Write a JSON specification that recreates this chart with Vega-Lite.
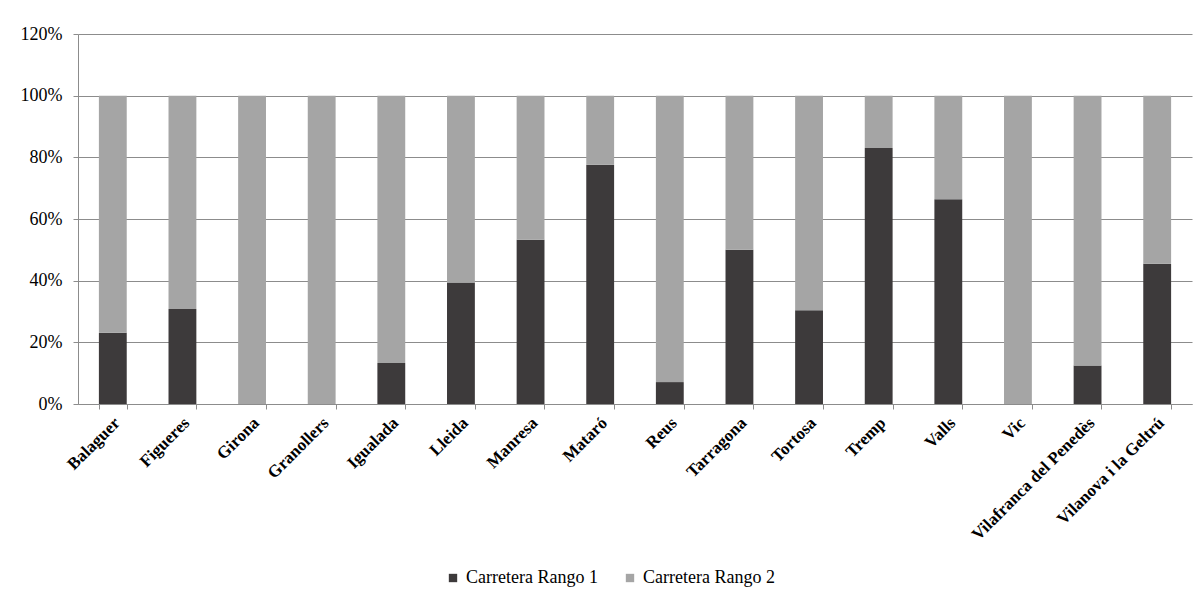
{
  "$schema": "https://vega.github.io/schema/vega-lite/v6.json",
  "width": 1114,
  "height": 370,
  "autosize": {"type": "none"},
  "padding": {"left": 78, "top": 34, "right": 9, "bottom": 194},
  "background": "white",
  "data": {
    "values": [
      {"ciudad": "Balaguer", "serie": "Carretera Rango 1", "valor": 0.231},
      {"ciudad": "Balaguer", "serie": "Carretera Rango 2", "valor": 0.769},
      {"ciudad": "Figueres", "serie": "Carretera Rango 1", "valor": 0.308},
      {"ciudad": "Figueres", "serie": "Carretera Rango 2", "valor": 0.692},
      {"ciudad": "Girona", "serie": "Carretera Rango 1", "valor": 0},
      {"ciudad": "Girona", "serie": "Carretera Rango 2", "valor": 1},
      {"ciudad": "Granollers", "serie": "Carretera Rango 1", "valor": 0},
      {"ciudad": "Granollers", "serie": "Carretera Rango 2", "valor": 1},
      {"ciudad": "Igualada", "serie": "Carretera Rango 1", "valor": 0.133},
      {"ciudad": "Igualada", "serie": "Carretera Rango 2", "valor": 0.867},
      {"ciudad": "Lleida", "serie": "Carretera Rango 1", "valor": 0.394},
      {"ciudad": "Lleida", "serie": "Carretera Rango 2", "valor": 0.606},
      {"ciudad": "Manresa", "serie": "Carretera Rango 1", "valor": 0.533},
      {"ciudad": "Manresa", "serie": "Carretera Rango 2", "valor": 0.467},
      {"ciudad": "Mataró", "serie": "Carretera Rango 1", "valor": 0.776},
      {"ciudad": "Mataró", "serie": "Carretera Rango 2", "valor": 0.224},
      {"ciudad": "Reus", "serie": "Carretera Rango 1", "valor": 0.071},
      {"ciudad": "Reus", "serie": "Carretera Rango 2", "valor": 0.929},
      {"ciudad": "Tarragona", "serie": "Carretera Rango 1", "valor": 0.5},
      {"ciudad": "Tarragona", "serie": "Carretera Rango 2", "valor": 0.5},
      {"ciudad": "Tortosa", "serie": "Carretera Rango 1", "valor": 0.304},
      {"ciudad": "Tortosa", "serie": "Carretera Rango 2", "valor": 0.696},
      {"ciudad": "Tremp", "serie": "Carretera Rango 1", "valor": 0.83},
      {"ciudad": "Tremp", "serie": "Carretera Rango 2", "valor": 0.17},
      {"ciudad": "Valls", "serie": "Carretera Rango 1", "valor": 0.664},
      {"ciudad": "Valls", "serie": "Carretera Rango 2", "valor": 0.336},
      {"ciudad": "Vic", "serie": "Carretera Rango 1", "valor": 0},
      {"ciudad": "Vic", "serie": "Carretera Rango 2", "valor": 1},
      {"ciudad": "Vilafranca del Penedès", "serie": "Carretera Rango 1", "valor": 0.125},
      {"ciudad": "Vilafranca del Penedès", "serie": "Carretera Rango 2", "valor": 0.875},
      {"ciudad": "Vilanova i la Geltrú", "serie": "Carretera Rango 1", "valor": 0.455},
      {"ciudad": "Vilanova i la Geltrú", "serie": "Carretera Rango 2", "valor": 0.545}
    ]
  },
  "mark": {"type": "bar"},
  "encoding": {
    "x": {
      "field": "ciudad",
      "type": "nominal",
      "sort": null,
      "title": null,
      "scale": {"paddingInner": 0.6, "paddingOuter": 0.3},
      "axis": {
        "labelAngle": -45,
        "labelAlign": "right",
        "labelBaseline": "middle",
        "labelFont": "Times New Roman, Liberation Serif, serif",
        "labelFontSize": 17,
        "labelFontWeight": "bold",
        "labelColor": "#000000",
        "labelPadding": 11,
        "labelOffset": 4,
        "tickBand": "extent",
        "tickSize": 5,
        "tickColor": "#8c8c8c",
        "domainColor": "#8c8c8c",
        "grid": false
      }
    },
    "y": {
      "field": "valor",
      "type": "quantitative",
      "stack": "zero",
      "title": null,
      "scale": {"domain": [0, 1.2], "nice": false},
      "axis": {
        "values": [0, 0.2, 0.4, 0.6, 0.8, 1.0, 1.2],
        "format": ".0%",
        "labelFont": "Times New Roman, Liberation Serif, serif",
        "labelFontSize": 18,
        "labelColor": "#000000",
        "labelPadding": 11,
        "tickSize": 5,
        "tickColor": "#8c8c8c",
        "domainColor": "#8c8c8c",
        "grid": true,
        "gridColor": "#8c8c8c",
        "gridWidth": 1
      }
    },
    "color": {
      "field": "serie",
      "type": "nominal",
      "scale": {
        "domain": ["Carretera Rango 1", "Carretera Rango 2"],
        "range": ["#3d3a3b", "#a5a5a5"]
      },
      "legend": {
        "title": null,
        "orient": "none",
        "direction": "horizontal",
        "legendX": 366,
        "legendY": 535,
        "symbolType": "square",
        "symbolSize": 70,
        "symbolStrokeWidth": 0,
        "labelFont": "Times New Roman, Liberation Serif, serif",
        "labelFontSize": 18,
        "labelColor": "#000000",
        "columnPadding": 23,
        "labelOffset": 4
      }
    },
    "order": {"field": "serie", "type": "nominal", "sort": "ascending"}
  },
  "config": {
    "font": "Times New Roman, Liberation Serif, serif",
    "view": {"stroke": null},
    "axis": {"domainWidth": 1, "tickWidth": 1}
  }
}
